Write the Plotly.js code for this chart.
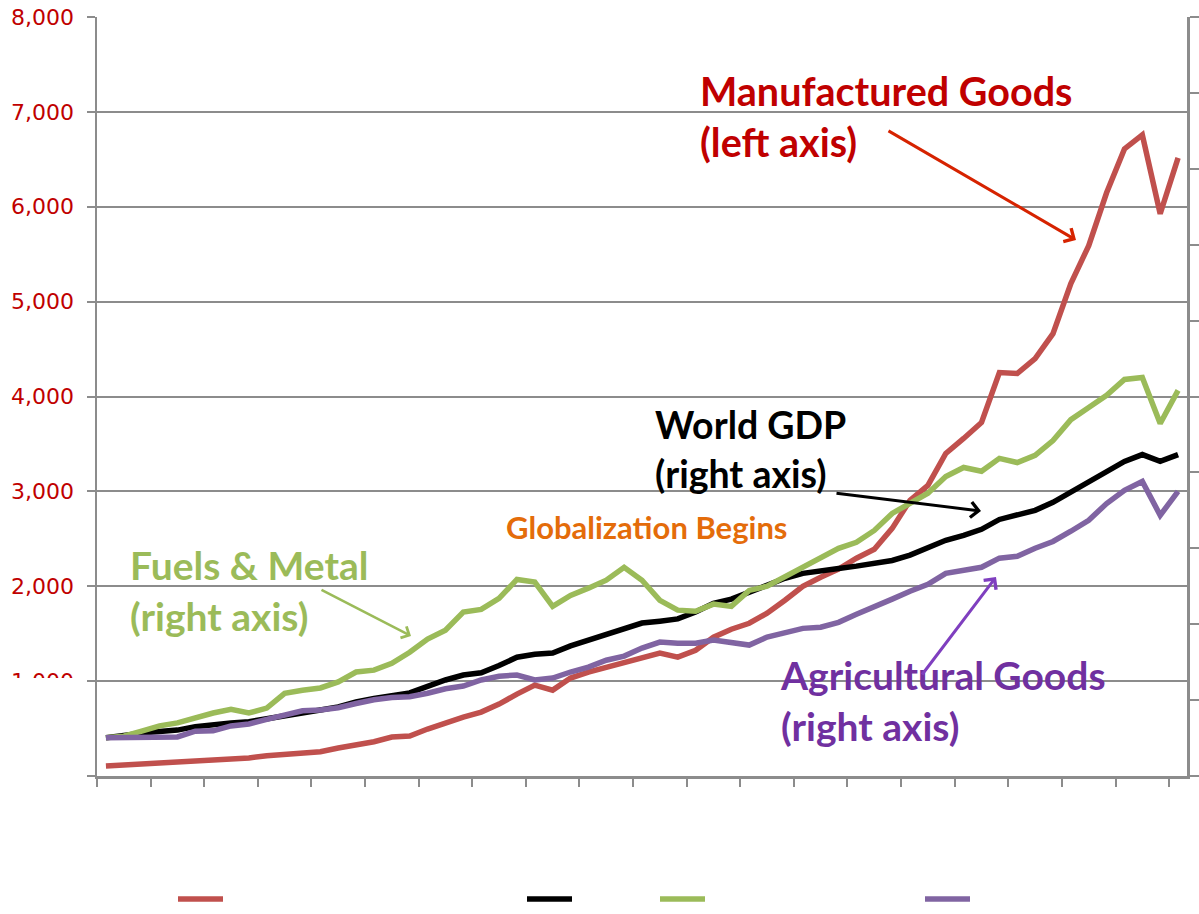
<!DOCTYPE html>
<html>
<head>
<meta charset="utf-8">
<script src="https://cdn.plot.ly/plotly-3.0.1.min.js"></script>
<style>html,body{margin:0;padding:0;background:#fff;}#chart{width:1199px;height:914px;}</style>
</head>
<body>
<div id="chart"></div>
<script>
// Categories: years (one point per year)
const years = [1950,1951,1952,1953,1954,1955,1956,1957,1958,1959,1960,1961,1962,1963,1964,1965,1966,1967,1968,1969,1970,1971,1972,1973,1974,1975,1976,1977,1978,1979,1980,1981,1982,1983,1984,1985,1986,1987,1988,1989,1990,1991,1992,1993,1994,1995,1996,1997,1998,1999,2000,2001,2002,2003,2004,2005,2006,2007,2008,2009,2010];

// Left axis series
const manufactured = [105,116,126,132,137,147,161,168,190,214,232,245,255,295,326,361,410,421,495,561,621,674,758,863,958,905,1032,1095,1147,1200,1258,1295,1253,1326,1463,1547,1610,1716,1853,2000,2095,2180,2295,2390,2610,2905,3063,3400,3558,3726,4253,4242,4400,4663,5190,5590,6147,6610,6758,5926,6516];

// Right axis series
const worldGDP = [101,108,113,117,121,130,136,140,143,150,158,166,174,182,195,204,213,219,236,253,266,272,291,313,321,324,343,358,372,389,403,408,414,432,455,466,484,503,521,534,542,547,553,561,568,582,600,621,634,650,676,687,700,721,747,774,800,829,847,829,847];
const fuelsMetal = [101,105,118,132,140,154,166,176,166,179,218,226,232,248,274,279,297,326,361,384,432,439,468,518,511,447,476,495,516,550,516,463,437,434,453,447,489,500,526,550,574,600,616,647,692,718,745,789,813,803,837,826,845,884,939,971,1003,1045,1050,929,1016];
const agricultural = [101,101,102,103,103,118,119,132,137,149,161,172,174,180,191,201,207,209,218,230,237,253,263,266,253,258,274,287,305,316,337,353,350,350,358,350,345,366,379,389,392,405,426,445,466,487,505,534,542,550,574,579,600,618,645,674,718,753,776,687,750];

const leftTicks = [0,1000,2000,3000,4000,5000,6000,7000,8000];
const seriesNames = ["Manufactured Goods (left axis)","World GDP (right axis)","Fuels & Metal (right axis)","Agricultural Goods (right axis)"];

// layout geometry (pixels)
const W = 1199, H = 914;
const L = 97, R = 1187, T = 17, B = 776;
const px = x => (x - L) / (R - L);
const py = y => (B - y) / (B - T);

const GRID = '#8c8c8c';
const xTickVals = [];
for (let i = 0; i <= years.length; i += 3) xTickVals.push(years[0] - 0.5 + i);

const traces = [
  {x: years, y: manufactured, name: seriesNames[0], type: 'scatter', mode: 'lines', yaxis: 'y',
   line: {color: '#C0504D', width: 5.5}, legendwidth: 289},
  {x: years, y: worldGDP, name: seriesNames[1], type: 'scatter', mode: 'lines', yaxis: 'y2',
   line: {color: '#000000', width: 5.5}, legendwidth: 73},
  {x: years, y: fuelsMetal, name: seriesNames[2], type: 'scatter', mode: 'lines', yaxis: 'y2',
   line: {color: '#9BBB59', width: 5.5}, legendwidth: 205},
  {x: years, y: agricultural, name: seriesNames[3], type: 'scatter', mode: 'lines', yaxis: 'y2',
   line: {color: '#8064A2', width: 5.5}, legendwidth: 100}
];

const annFont = (size, color) => ({family: 'Lato, "Open Sans", sans-serif', size: size, color: color});

const annotations = [
  {xref: 'paper', yref: 'paper', x: px(698), y: py(116), xanchor: 'left', yanchor: 'middle', align: 'left', showarrow: false,
   text: '<b>Manufactured Goods<br>(left axis)</b>', font: annFont(39.5, '#C00000')},
  {xref: 'paper', yref: 'paper', x: px(653), y: py(449), xanchor: 'left', yanchor: 'middle', align: 'left', showarrow: false,
   text: '<b>World GDP<br>(right axis)</b>', font: annFont(37.5, '#000000')},
  {xref: 'paper', yref: 'paper', x: px(504), y: py(527), xanchor: 'left', yanchor: 'middle', align: 'left', showarrow: false,
   text: '<b>Globalization Begins</b>', font: annFont(31, '#E46C0A')},
  {xref: 'paper', yref: 'paper', x: px(128), y: py(590), xanchor: 'left', yanchor: 'middle', align: 'left', showarrow: false,
   text: '<b>Fuels &amp; Metal<br>(right axis)</b>', font: annFont(39, '#9BBB59')},
  {xref: 'paper', yref: 'paper', x: px(778), y: py(700), xanchor: 'left', yanchor: 'middle', align: 'left', showarrow: false,
   text: '<b>Agricultural Goods<br>(right axis)</b>', font: annFont(39, '#7030A0')},
  // arrows
  {xref: 'paper', yref: 'paper', x: px(1076), y: py(240), ax: 887 - 1076, ay: 130 - 240, text: '', showarrow: true,
   arrowhead: 4, arrowsize: 1, arrowwidth: 3, arrowcolor: '#D62300'},
  {xref: 'paper', yref: 'paper', x: px(981), y: py(511), ax: 835 - 981, ay: 493 - 511, text: '', showarrow: true,
   arrowhead: 4, arrowsize: 1, arrowwidth: 3, arrowcolor: '#000000'},
  {xref: 'paper', yref: 'paper', x: px(411), y: py(636), ax: 320 - 411, ay: 589 - 636, text: '', showarrow: true,
   arrowhead: 4, arrowsize: 1, arrowwidth: 2.5, arrowcolor: '#9BBB59'},
  {xref: 'paper', yref: 'paper', x: px(996), y: py(577), ax: 921 - 996, ay: 676 - 577, text: '', showarrow: true,
   arrowhead: 4, arrowsize: 1, arrowwidth: 3, arrowcolor: '#7F3FBF'}
];

const layout = {
  width: W, height: H,
  margin: {l: L, r: W - R, t: T, b: H - B, pad: 0, autoexpand: false},
  paper_bgcolor: '#ffffff', plot_bgcolor: '#ffffff',
  showlegend: true,
  legend: {orientation: 'h', x: px(173), xanchor: 'left', y: py(899), yanchor: 'middle',
           font: {family: 'DejaVu Sans', size: 12, color: '#ffffff'}, itemwidth: 45, bgcolor: 'rgba(0,0,0,0)'},
  xaxis: {range: [years[0] - 0.5, years[years.length - 1] + 0.5], tickmode: 'array', tickvals: xTickVals,
          showticklabels: false, ticks: 'outside', ticklen: 8, tickwidth: 2, tickcolor: GRID,
          showline: true, linecolor: GRID, linewidth: 2.5, showgrid: false, zeroline: false, fixedrange: true},
  yaxis: {range: [0, 8000], tickmode: 'array', tickvals: leftTicks, tickformat: ',d',
          ticks: 'outside', ticklen: 8, tickwidth: 2, tickcolor: GRID, ticklabelstandoff: 8,
          tickfont: {family: '"DejaVu Sans", Verdana, sans-serif', size: 22, color: '#C00000'},
          showline: true, linecolor: GRID, linewidth: 2.5, showgrid: true, gridcolor: GRID, gridwidth: 2,
          zeroline: false, fixedrange: true},
  yaxis2: {range: [0, 2000], dtick: 200, overlaying: 'y', side: 'right', showticklabels: false,
           ticks: 'outside', ticklen: 9, tickwidth: 2, tickcolor: GRID,
           showline: true, linecolor: GRID, linewidth: 2.5, showgrid: false, zeroline: false, fixedrange: true},
  shapes: [
    {type: 'rect', xref: 'paper', yref: 'paper', x0: px(0), x1: px(86), y0: py(800), y1: py(678),
     fillcolor: '#ffffff', line: {width: 0}, layer: 'above'}
  ],
  annotations: annotations
};

Plotly.newPlot('chart', traces, layout, {displayModeBar: false, staticPlot: true});
</script>
</body>
</html>
